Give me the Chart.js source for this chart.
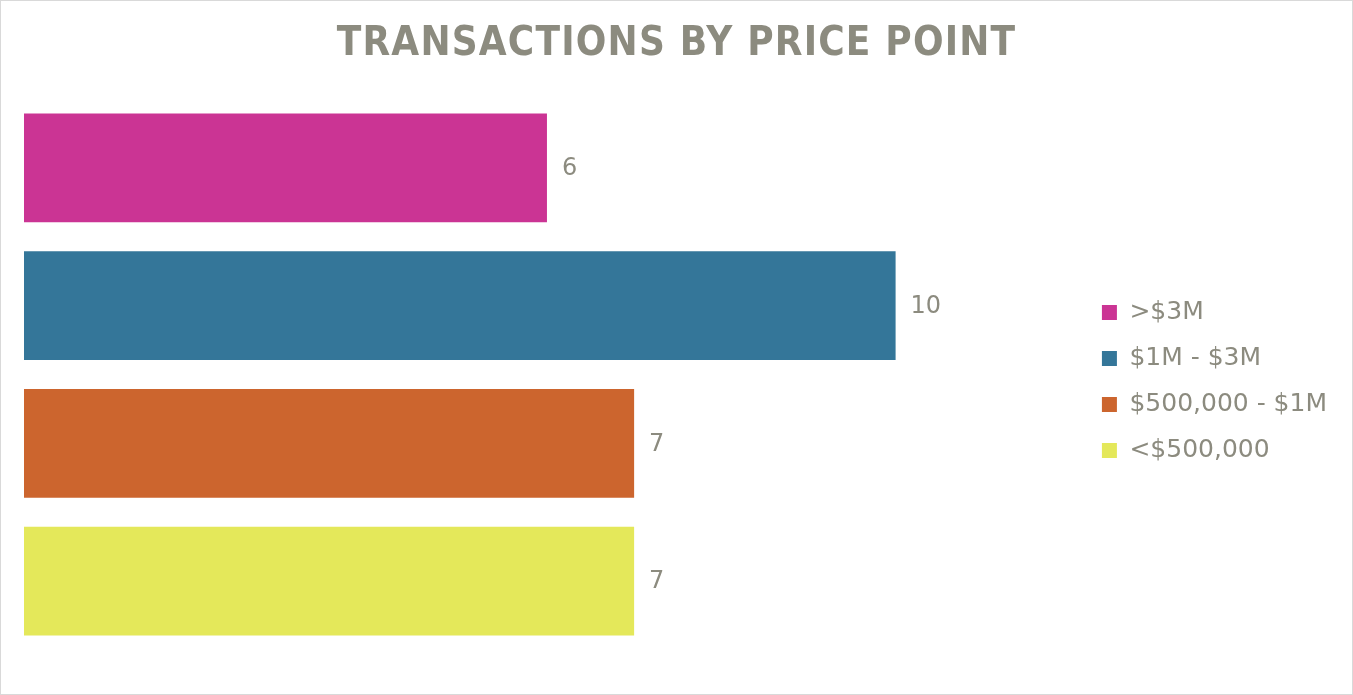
<!DOCTYPE html>
<html lang="en">
  <head>
    <meta charset="UTF-8" />
    <title>Transactions by price point</title>
    <style>
      body {
        margin: 0;
        background: #fff;
      }
      .box {
        width: 1353px;
        height: 695px;
        box-sizing: border-box;
        border: 1px solid #d9d9d9;
        position: relative;
      }
    </style>
  </head>
  <body>
    <div class="box">
      <canvas id="chart"></canvas>
    </div>

    <script src="https://cdn.jsdelivr.net/npm/chart.js"></script>
    <script>
      const categories = [">$3M", "$1M - $3M", "$500,000 - $1M", "<$500,000"];
      const counts = [6, 10, 7, 7];
      const colors = ["#cb3494", "#347699", "#cc652e", "#e4e85a"];
      const axisMax = 12;
      const chartTitle = "TRANSACTIONS BY PRICE POINT";

      const textGray = "#8c8b7f";
      const font = "'DejaVu Sans', sans-serif";
      const titleFont = "'DejaVu Sans Condensed', 'DejaVu Sans', sans-serif";

      // one dataset per price band, so the legend lists each band
      const datasets = categories.map((name, i) => ({
        label: name,
        data: categories.map((c, j) => (j === i ? counts[i] : null)),
        backgroundColor: colors[i],
        borderWidth: 0,
        barPercentage: 0.79,
        categoryPercentage: 1,
      }));

      // title with letter spacing (canvas letterSpacing)
      const spacedTitle = {
        id: "spacedTitle",
        afterDraw(chart) {
          const ctx = chart.ctx;
          ctx.save();
          ctx.font = "bold 40px " + titleFont;
          ctx.fillStyle = textGray;
          ctx.letterSpacing = "1.2px";
          ctx.textAlign = "center";
          ctx.textBaseline = "middle";
          ctx.fillText(chartTitle, chart.width / 2, 44);
          ctx.restore();
        },
      };

      // legend sits a little lower and further right than chart.js puts it
      const legendNudge = {
        id: "legendNudge",
        afterLayout(chart) {
          const lg = chart.legend;
          lg.top += 7;
          lg.bottom += 7;
          lg.left += 11;
          lg.right += 11;
        },
      };

      // value at the end of every bar
      const valueLabels = {
        id: "valueLabels",
        afterDatasetsDraw(chart) {
          const ctx = chart.ctx;
          ctx.save();
          ctx.font = "24px " + font;
          ctx.fillStyle = textGray;
          ctx.textAlign = "left";
          ctx.textBaseline = "middle";
          chart.data.datasets.forEach((ds, i) => {
            chart.getDatasetMeta(i).data.forEach((bar, j) => {
              if (ds.data[j] == null) return;
              ctx.fillText(ds.data[j], bar.x + 15, bar.y + 1);
            });
          });
          ctx.restore();
        },
      };

      new Chart(document.getElementById("chart"), {
        type: "bar",
        data: { labels: categories, datasets: datasets },
        options: {
          indexAxis: "y",
          responsive: true,
          maintainAspectRatio: false,
          animation: false,
          layout: {
            padding: { top: 98, bottom: 44, left: 23, right: 26 },
          },
          scales: {
            x: {
              display: false,
              min: 0,
              max: axisMax,
              stacked: true,
            },
            y: {
              display: false,
              stacked: true,
            },
          },
          plugins: {
            title: { display: false },
            tooltip: { enabled: false },
            legend: {
              position: "right",
              labels: {
                color: textGray,
                font: { family: font, size: 25 },
                boxWidth: 15,
                boxHeight: 15,
                padding: 21,
              },
            },
          },
        },
        plugins: [spacedTitle, legendNudge, valueLabels],
      });
    </script>
  </body>
</html>
